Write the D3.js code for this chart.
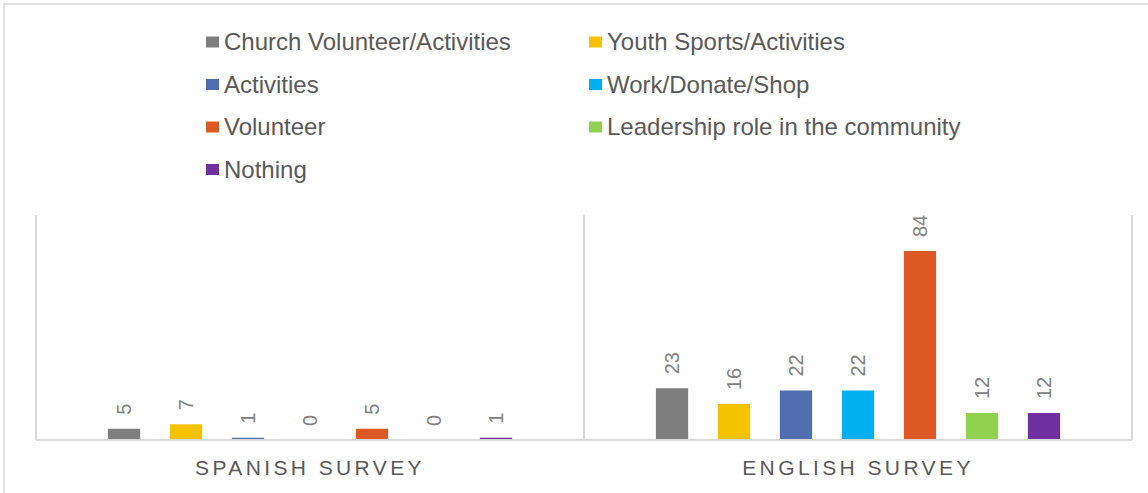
<!DOCTYPE html>
<html>
<head>
<meta charset="utf-8">
<script src="https://cdn.jsdelivr.net/npm/d3@7"></script>
<style>
  html, body { margin: 0; padding: 0; background: #fff; }
  svg { display: block; font-family: "Liberation Sans", Arial, sans-serif; }
</style>
</head>
<body>
<svg id="chart" width="1148" height="493"></svg>
<script>
// Survey groups along the x axis
const groups = ["SPANISH SURVEY", "ENGLISH SURVEY"];
// Response categories (one bar per category inside each group)
const categories = [
  "Church Volunteer/Activities",
  "Youth Sports/Activities",
  "Activities",
  "Work/Donate/Shop",
  "Volunteer",
  "Leadership role in the community",
  "Nothing"
];
// Counts per category, one array per survey
const spanishValues = [5, 7, 1, 0, 5, 0, 1];
const englishValues = [23, 16, 22, 22, 84, 12, 12];
// Fill colour for each category
const colors = ["#7f7f7f", "#f5c200", "#506db0", "#00b0f0", "#dc5924", "#92d050", "#7030a0"];

const valuesByGroup = { "SPANISH SURVEY": spanishValues, "ENGLISH SURVEY": englishValues };

const svg = d3.select("#chart");
const gridColor = "#d9d9d9";

// Chart frame
svg.append("rect")
  .attr("x", 4).attr("y", 4)
  .attr("width", 1170).attr("height", 520)
  .attr("fill", "none").attr("stroke", gridColor).attr("stroke-width", 1.5);

const plot = { left: 36, right: 1132, top: 215, bottom: 440 };

const x0 = d3.scaleBand().domain(groups).range([plot.left, plot.right]).padding(0);
const x1 = d3.scaleBand().domain(categories).range([0, x0.bandwidth()])
  .paddingInner(0.48).paddingOuter(1.16);
const y = d3.scaleLinear().domain([0, 100]).range([plot.bottom, plot.top]);

// Vertical separators between the survey groups
const separators = [plot.left].concat(groups.map(g => x0(g) + x0.bandwidth()));
svg.append("g").selectAll("line").data(separators).join("line")
  .attr("x1", d => d).attr("x2", d => d)
  .attr("y1", plot.top).attr("y2", plot.bottom)
  .attr("stroke", gridColor).attr("stroke-width", 2);

// Bars
const groupG = svg.append("g").selectAll("g").data(groups).join("g")
  .attr("transform", g => `translate(${x0(g)},0)`);

const rows = g => categories.map((c, i) => ({ cat: c, value: valuesByGroup[g][i], color: colors[i] }));

groupG.selectAll("rect").data(rows).join("rect")
  .attr("x", d => x1(d.cat))
  .attr("width", x1.bandwidth())
  .attr("y", d => y(d.value))
  .attr("height", d => y(0) - y(d.value))
  .attr("fill", d => d.color);

// Rotated value labels above each bar
groupG.selectAll("text").data(rows).join("text")
  .attr("transform", d => `translate(${x1(d.cat) + x1.bandwidth() / 2},${y(d.value) - 14}) rotate(-90)`)
  .attr("text-anchor", "start")
  .attr("dy", "0.35em")
  .attr("font-size", 20)
  .attr("fill", "#808080")
  .text(d => d.value);

// Baseline
svg.append("line")
  .attr("x1", plot.left).attr("x2", plot.right)
  .attr("y1", plot.bottom).attr("y2", plot.bottom)
  .attr("stroke", gridColor).attr("stroke-width", 2);

// Group labels
svg.append("g").selectAll("text").data(groups).join("text")
  .attr("x", g => x0(g) + x0.bandwidth() / 2)
  .attr("y", 475)
  .attr("text-anchor", "middle")
  .attr("font-size", 21)
  .style("letter-spacing", "3.4px")
  .attr("fill", "#595959")
  .text(g => g);

// Legend: two columns, filled row by row
const legendCols = [206, 589];
const legendRowY = [42, 84.5, 127, 169.5];
const legend = svg.append("g").selectAll("g").data(categories).join("g")
  .attr("transform", (c, i) => `translate(${legendCols[i % 2]},${legendRowY[Math.floor(i / 2)]})`);
legend.append("rect")
  .attr("x", 0).attr("y", -5.5)
  .attr("width", 13).attr("height", 11)
  .attr("fill", (c, i) => colors[i]);
legend.append("text")
  .attr("x", 18).attr("y", 0)
  .attr("dy", "0.35em")
  .attr("font-size", 24)
  .attr("fill", "#595959")
  .text(c => c);
</script>
</body>
</html>
